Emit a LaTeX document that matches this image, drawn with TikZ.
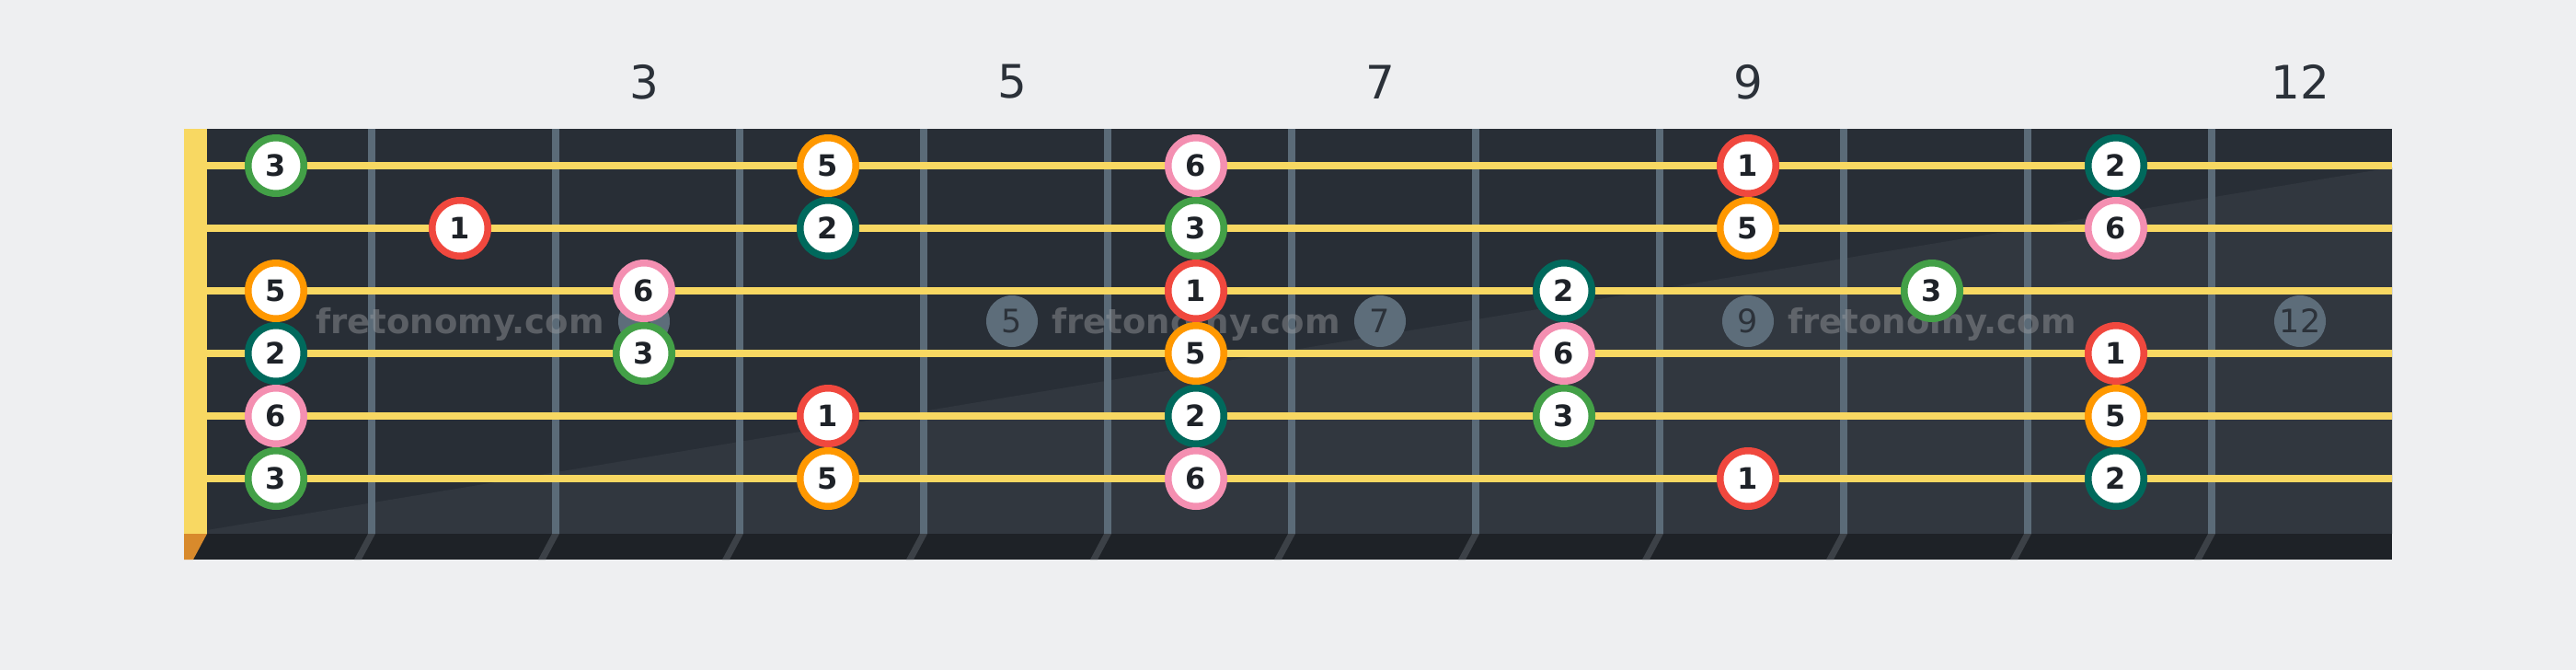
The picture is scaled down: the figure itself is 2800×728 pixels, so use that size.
\documentclass[tikz,border=0pt]{standalone}
\usepackage{fontspec}
\setmainfont{DejaVu Sans}
\definecolor{bgc}{HTML}{EEEFF1}
\definecolor{boarddark}{HTML}{282E36}
\definecolor{boardlight}{HTML}{31373F}
\definecolor{stripc}{HTML}{1E2227}
\definecolor{fretc}{HTML}{5B6B78}
\definecolor{slantc}{HTML}{3C4147}
\definecolor{nutc}{HTML}{F8D862}
\definecolor{nutside}{HTML}{D88A2C}
\definecolor{stringc}{HTML}{F8D862}
\definecolor{markfill}{HTML}{5D6D7A}
\definecolor{marktext}{HTML}{2C323A}
\definecolor{lbltext}{HTML}{2B3139}
\definecolor{notetext}{HTML}{1E2228}
\definecolor{wmgray}{HTML}{9A9CA0}
\definecolor{deg1}{HTML}{F0483E}
\definecolor{deg2}{HTML}{00695C}
\definecolor{deg3}{HTML}{43A047}
\definecolor{deg5}{HTML}{FF9800}
\definecolor{deg6}{HTML}{F48FB1}
\begin{document}
\begin{tikzpicture}[x=1pt,y=-1pt]
\tikzset{
  notec/.style={circle, draw=#1, fill=white, line width=7.5pt, minimum size=60.5pt, inner sep=0pt, text=notetext, font=\fontsize{32}{32}\selectfont\bfseries},
  markc/.style={circle, fill=markfill, minimum size=56pt, inner sep=0pt, text=marktext, font=\fontsize{35}{35}\selectfont},
  fretlbl/.style={text=lbltext, font=\fontsize{50}{50}\selectfont, inner sep=0pt},
  wmark/.style={text=wmgray, text opacity=0.45, font=\fontsize{37}{37}\selectfont\bfseries, inner sep=0pt, anchor=base},
  fretline/.style={draw=fretc, line width=8pt},
  stringline/.style={draw=stringc, line width=7.5pt},
}
\useasboundingbox (0,0) rectangle (2800,728);
\fill[bgc] (0,0) rectangle (2800,728);
% board
\fill[boarddark] (200,140) rectangle (2600,580);
\fill[boardlight] (225,576) -- (2600,182) -- (2600,580) -- (225,580) -- cycle;
\fill[stripc] (200,580) rectangle (2600,608);
% slanted fret sides and nut side
\fill[nutside] (200,580) -- (225,580) -- (210,608) -- (200,608) -- cycle;
\foreach \k in {0,...,10}{
  \fill[slantc] ({400+200*\k},580) -- ({408+200*\k},580) -- ({393+200*\k},608) -- ({385+200*\k},608) -- cycle;
}
% fret wires
\foreach \k in {0,...,10}{
  \draw[fretline] ({404+200*\k},140) -- ({404+200*\k},580);
}
% nut
\fill[nutc] (200,140) rectangle (225,580);
% strings
\foreach \s in {1,...,6}{
  \draw[stringline] (225,{180+68*(\s-1)}) -- (2600,{180+68*(\s-1)});
}
% fret markers and labels
\foreach \f in {3,5,7,9,12}{
  \node[markc] (m\f) at ({100+200*\f},349) {\f};
  \node[fretlbl] (l\f) at ({100+200*\f},89) {\f};
}
% watermark
\node[wmark] (w1) at (500,362) {fretonomy.com};
\node[wmark] (w2) at (1300,362) {fretonomy.com};
\node[wmark] (w3) at (2100,362) {fretonomy.com};
% notes
\foreach \s/\f/\d in {
  1/1/3, 1/4/5, 1/6/6, 1/9/1, 1/11/2,
  2/2/1, 2/4/2, 2/6/3, 2/9/5, 2/11/6,
  3/1/5, 3/3/6, 3/6/1, 3/8/2, 3/10/3,
  4/1/2, 4/3/3, 4/6/5, 4/8/6, 4/11/1,
  5/1/6, 5/4/1, 5/6/2, 5/8/3, 5/11/5,
  6/1/3, 6/4/5, 6/6/6, 6/9/1, 6/11/2}{
  \node[notec=deg\d] (n\s-\f) at ({100+200*\f},{180+68*(\s-1)}) {\d};
}
\end{tikzpicture}
\end{document}
